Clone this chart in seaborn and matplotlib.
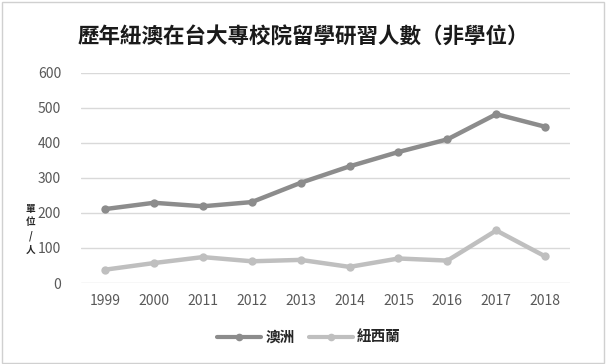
import pandas as pd
import matplotlib
matplotlib.use("Agg")
import matplotlib.pyplot as plt
import seaborn as sns
from matplotlib.patches import Rectangle
from matplotlib.lines import Line2D

# data
years = ["1999", "2000", "2011", "2012", "2013", "2014", "2015", "2016", "2017", "2018"]
australia = [211, 229, 219, 231, 286, 333, 374, 410, 482, 446]
new_zealand = [38, 57, 74, 62, 66, 46, 70, 64, 150, 76]
series_names = ["澳洲", "紐西蘭"]
colors = ["#8c8c8c", "#bfbfbf"]

sns.set_style("white")
plt.rcParams["font.family"] = ["Noto Sans CJK TC", "DejaVu Sans"]

df = pd.DataFrame({"year": years * 2,
                   "value": australia + new_zealand,
                   "country": [series_names[0]] * len(years) + [series_names[1]] * len(years)})

fig = plt.figure(figsize=(6.06, 3.64), dpi=100)
ax = fig.add_axes([0.133, 0.2225, 0.807, 0.5775])

for name, color in zip(series_names, colors):
    sub = df[df["country"] == name]
    sns.lineplot(data=sub, x="year", y="value", ax=ax, color=color, linewidth=3.2,
                 marker="o", markersize=6, markeredgewidth=0, sort=False, legend=False)

ax.set_xlim(-0.5, len(years) - 0.5)
ax.set_ylim(0, 600)
ax.set_yticks(range(0, 601, 100))
ax.yaxis.grid(True, color="#d9d9d9", linewidth=1)
ax.set_axisbelow(True)
for s in ax.spines.values():
    s.set_visible(False)
ax.tick_params(axis="both", length=0, labelsize=10, labelcolor="#595959")
ax.tick_params(axis="y", pad=14)
ax.tick_params(axis="x", pad=8)
ax.set_xlabel("")
ax.set_ylabel("")

fig.text(0.5, 0.898, "歷年紐澳在台大專校院留學研習人數（非學位）", ha="center", va="center",
         fontsize=15.5, color="#1a1a1a", fontweight="bold")
fig.text(0.05, 0.37, "單\n位\n/\n人", ha="center", va="center", fontsize=7,
         fontweight="bold", color="#262626", linespacing=1.45)

handles = [Line2D([0], [0], color=c, linewidth=3, marker="o", markersize=5.5, markeredgewidth=0)
           for c in colors]
fig.legend(handles, series_names, loc="center", bbox_to_anchor=(0.51, 0.075), ncol=2,
           frameon=False, handlelength=3, columnspacing=1.0, handletextpad=0.3,
           prop={"size": 10.5, "weight": "bold"})

fig.patches.append(Rectangle((0.003, 0.004), 0.994, 0.99, transform=fig.transFigure,
                             fill=False, edgecolor="#d0d0d0", linewidth=1))

fig.savefig("out.png", dpi=100)
